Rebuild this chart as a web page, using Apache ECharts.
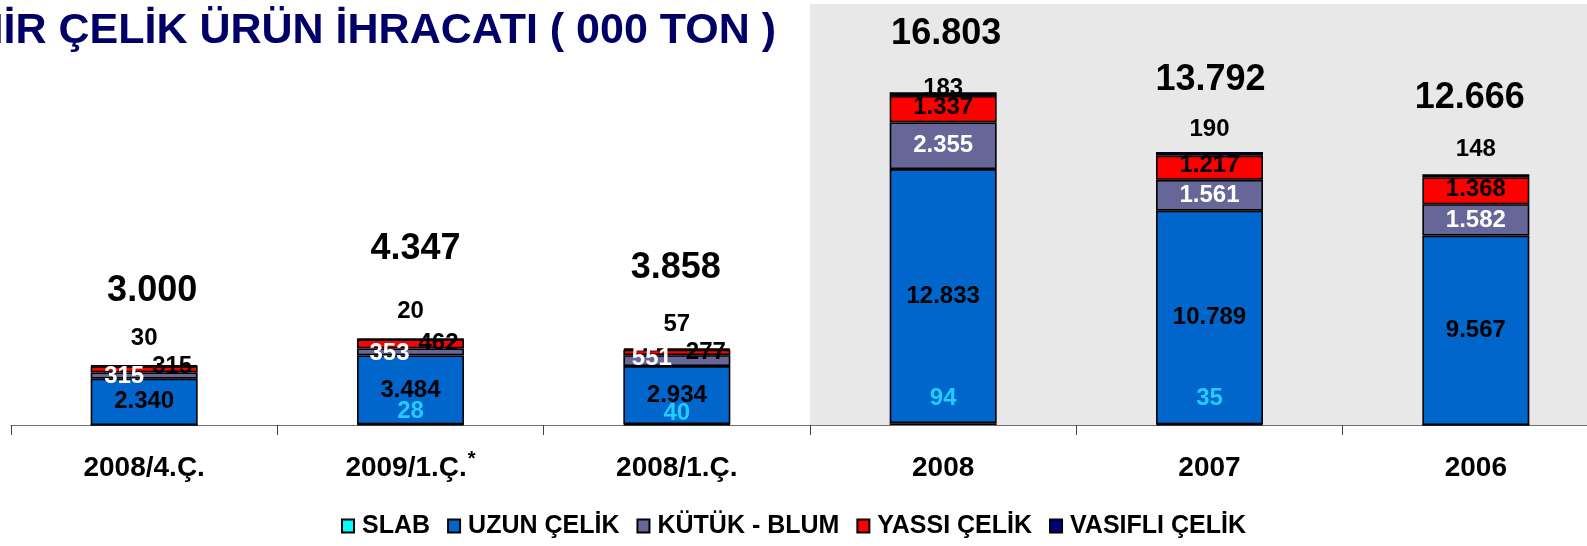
<!DOCTYPE html>
<html>
<head>
<meta charset="utf-8">
<title>Çelik ürün ihracatı</title>
<script src="https://cdn.jsdelivr.net/npm/echarts@6/dist/echarts.min.js"></script>
<style>
    html, body { margin: 0; padding: 0; background: #fff; }
    #chart { width: 1587px; height: 546px; }
</style>
</head>
<body>
<div id="chart"></div>
<script>
// data (000 ton)
var categories = ['2008/4.Ç.', '2009/1.Ç.*', '2008/1.Ç.', '2008', '2007', '2006'];
var slab    = [0, 28, 40, 94, 35, 0];
var uzun    = [2340, 3484, 2934, 12833, 10789, 9567];
var kutuk   = [315, 353, 551, 2355, 1561, 1582];
var yassi   = [315, 462, 277, 1337, 1217, 1368];
var vasifli = [30, 20, 57, 183, 190, 148];
var totals  = [3000, 4347, 3858, 16803, 13792, 12666];

// label nudges, the slide has them placed by hand
var kutukShift  = [[-20, 1], [-21, 1], [-25, -2], [0, 0], [0, 0], [0, 0]];
var yassiShift  = [[28, -3], [28, -1], [29, 0], [0, -2], [0, -2], [0, -1]];
var vasLift     = [15, 15, 12, -8, 11, 13];
var slabLift    = [0, 2, 0, 15, 15, 0];
var totalLift   = [57, 72, 63, 40, 54, 58];
var totalShiftX = [8, 5, -1, 3, 1, -6];

var FONT = '"Liberation Sans", Arial, sans-serif';

function fmt(n) {
    return String(n).replace(/\B(?=(\d{3})+(?!\d))/g, '.');
}

function withLabels(values, labelFn) {
    return values.map(function (v, i) {
        return { value: v, label: labelFn(i) };
    });
}

var baseLabel = {
    show: true,
    fontSize: 24,
    lineHeight: 24,
    fontWeight: 'bold',
    fontFamily: FONT,
    textBorderWidth: 0,
    formatter: function (p) { return p.value ? fmt(p.value) : ''; }
};

function stackSeries(name, values, color, label, labelFn) {
    return {
        name: name,
        type: 'bar',
        stack: 'total',
        barWidth: 107,
        barGap: '-100%',
        itemStyle: { color: color, borderColor: '#000', borderWidth: 1.6 },
        label: Object.assign({}, baseLabel, label),
        data: labelFn ? withLabels(values, labelFn) : values
    };
}

var chart = echarts.init(document.getElementById('chart'));

var option = {
    animation: false,
    textStyle: { fontFamily: FONT },
    title: {
        text: 'DEMİR ÇELİK ÜRÜN İHRACATI ( 000 TON )',
        left: -92,
        top: 10,
        padding: 0,
        textStyle: { color: '#000066', fontSize: 43, lineHeight: 43, fontWeight: 'bold', fontFamily: FONT }
    },
    graphic: [{
        type: 'rect',
        z: -10,
        shape: { x: 810, y: 4, width: 800, height: 421 },
        style: { fill: '#e8e8e8' }
    }],
    legend: {
        data: ['SLAB', 'UZUN ÇELİK', 'KÜTÜK - BLUM', 'YASSI ÇELİK', 'VASIFLI ÇELİK'],
        left: 'center',
        top: 513,
        padding: 0,
        icon: 'rect',
        itemWidth: 12,
        itemHeight: 13,
        itemGap: 17,
        textStyle: { fontSize: 25, lineHeight: 26, fontWeight: 'bold', color: '#000', fontFamily: FONT, padding: [0, 0, 0, 3] }
    },
    grid: { left: 11, right: -22, top: 29, bottom: 121, outerBoundsMode: 'none' },
    xAxis: {
        type: 'category',
        data: categories,
        axisLine: { lineStyle: { color: '#707070', width: 1.2 } },
        axisTick: { show: true, alignWithLabel: false, length: 10, lineStyle: { color: '#444' } },
        axisLabel: {
            margin: 28,
            interval: 0,
            formatter: function (v) {
                if (v.charAt(v.length - 1) === '*') {
                    return '{a|' + v.slice(0, -1) + '}{s|*}';
                }
                return '{a|' + v + '}';
            },
            rich: {
                a: { fontSize: 28, lineHeight: 30, fontWeight: 'bold', color: '#000', fontFamily: FONT },
                s: { fontSize: 20, lineHeight: 20, fontWeight: 'bold', color: '#000', fontFamily: FONT, padding: [0, 0, 18, 1] }
            }
        }
    },
    yAxis: { type: 'value', min: 0, max: 20000, show: false },
    series: [
        stackSeries('SLAB', slab, '#00ffff', { position: 'insideBottom', color: '#22ccff' }, function (i) {
            return { distance: slabLift[i] };
        }),
        stackSeries('UZUN ÇELİK', uzun, '#0066cc', { position: 'inside', color: '#000' }),
        stackSeries('KÜTÜK - BLUM', kutuk, '#666699', { position: 'inside', color: '#fff' }, function (i) {
            return { offset: kutukShift[i] };
        }),
        stackSeries('YASSI ÇELİK', yassi, '#ff0000', { position: 'inside', color: '#000' }, function (i) {
            return { offset: yassiShift[i] };
        }),
        stackSeries('VASIFLI ÇELİK', vasifli, '#000080', { position: 'top', color: '#000' }, function (i) {
            return { distance: vasLift[i] };
        }),
        {
            name: 'TOPLAM',
            type: 'bar',
            barWidth: 107,
            barGap: '-100%',
            silent: true,
            z: 1,
            itemStyle: { color: 'rgba(0,0,0,0)' },
            label: {
                show: true,
                position: 'top',
                color: '#000',
                fontSize: 36,
                lineHeight: 36,
                fontWeight: 'bold',
                fontFamily: FONT,
                formatter: function (p) { return fmt(p.value); }
            },
            data: withLabels(totals, function (i) {
                return { distance: totalLift[i], offset: [totalShiftX[i], 0] };
            })
        }
    ]
};

chart.setOption(option);
</script>
</body>
</html>
